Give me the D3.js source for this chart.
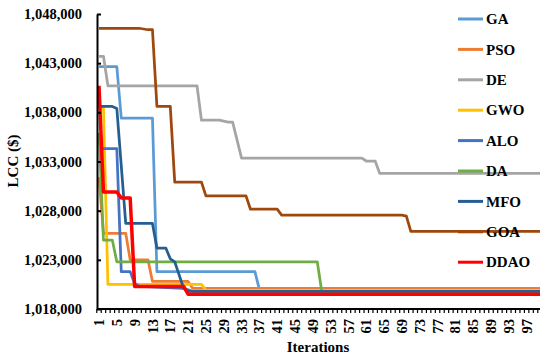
<!DOCTYPE html>
<html>
<head>
<meta charset="utf-8">
<script src="https://cdn.jsdelivr.net/npm/d3@7"></script>
<style>
  body { margin: 0; background: #fff; }
</style>
</head>
<body>
<svg id="chart" width="550" height="360" font-family="'Liberation Serif', 'Times New Roman', serif" font-weight="bold"></svg>
<script>
// convergence curves, [iteration, LCC] at each step corner
let GA = [[1,1042650],[5,1042650],[6,1037400],[13,1037400],[14,1021800],[36,1021800],[37,1020000],[100,1020000]];
let PSO = [[1,1031400],[2,1025700],[7,1025700],[8,1023000],[12,1023000],[13,1020800],[21,1020800],[22,1020100],[100,1020100]];
let DE = [[1,1043700],[2,1043700],[3,1040700],[23,1040700],[24,1037200],[28,1037200],[30,1037000],[31,1037000],[33,1033350],[60,1033350],[61,1033050],[63,1033050],[64,1031800],[100,1031800]];
let GWO = [[1,1038500],[2,1038500],[3,1020500],[24,1020500],[25,1019900],[100,1019900]];
let ALO = [[1,1034300],[5,1034300],[6,1021800],[8,1021800],[9,1020600],[10,1020300],[20,1020100],[22,1019800],[100,1019800]];
let DA = [[1,1035900],[2,1025000],[4,1025000],[5,1022800],[50,1022800],[51,1019800],[100,1019800]];
let MFO = [[1,1038600],[4,1038600],[5,1038400],[7,1026700],[13,1026700],[14,1024200],[16,1024200],[17,1023100],[18,1022800],[20,1020100],[21,1019800],[100,1019800]];
let GOA = [[1,1046550],[10,1046550],[12,1046400],[13,1046400],[14,1038600],[17,1038600],[18,1030900],[24,1030900],[25,1029500],[34,1029500],[35,1028150],[41,1028150],[42,1027550],[69,1027550],[70,1027450],[71,1025900],[100,1025900]];
let DDAO = [[1,1040700],[2,1029900],[5,1029900],[6,1029300],[8,1029300],[9,1020300],[20,1020300],[21,1019500],[100,1019500]];

let seriesNames = ["GA", "PSO", "DE", "GWO", "ALO", "DA", "MFO", "GOA", "DDAO"];
let seriesValues = [GA, PSO, DE, GWO, ALO, DA, MFO, GOA, DDAO];
let seriesColors = ["#5B9BD5", "#ED7D31", "#A5A5A5", "#FFC000", "#4472C4", "#70AD47", "#255E91", "#9E480E", "#FF0000"];

let xTickLabels = [1,5,9,13,17,21,25,29,33,37,41,45,49,53,57,61,65,69,73,77,81,85,89,93,97];
let yTickValues = [1018000,1023000,1028000,1033000,1038000,1043000,1048000];

let svg = d3.select("#chart");

let canvas = {
  "left": 97,
  "right": 540,
  "top": 14,
  "bottom": 309
};

let xScale = d3.scaleLinear()
  .domain([1, 100])
  .range([99, canvas.right]);

let yScale = d3.scaleLinear()
  .domain([1018000, 1048000])
  .range([canvas.bottom, canvas.top]);

// lines
let line = d3.line()
  .x(d => xScale(d[0]))
  .y(d => yScale(d[1]));

let series = seriesNames.map((name, i) => ({name: name, values: seriesValues[i], color: seriesColors[i]}));

svg.append("g")
  .selectAll("path")
  .data(series)
  .join("path")
  .attr("d", d => line(d.values))
  .attr("fill", "none")
  .attr("stroke", d => d.color)
  .attr("stroke-width", d => d.name == "DDAO" ? 3.5 : 2.75)
  .attr("stroke-linejoin", "round");

// y axis
let yAxis = d3.axisLeft(yScale)
  .tickValues(yTickValues)
  .tickSizeInner(-4)
  .tickSizeOuter(0)
  .tickPadding(15)
  .tickFormat(d3.format(",d"));

let gy = svg.append("g")
  .attr("transform", `translate(${canvas.left}, 0)`)
  .call(yAxis)
  .attr("font-family", null)
  .attr("font-size", null);

gy.select(".domain").attr("stroke", "#000").attr("stroke-width", 2);
gy.selectAll(".tick line").attr("stroke", "#000").attr("stroke-width", 2);
gy.selectAll(".tick text")
  .attr("fill", "#000")
  .attr("font-size", "14.5px");

// x axis: one tick per iteration boundary, labels every 4th
let boundaries = d3.range(0.5, 100.5, 1);

let gx = svg.append("g")
  .attr("transform", `translate(0, ${canvas.bottom})`);

gx.append("line")
  .attr("x1", canvas.left)
  .attr("x2", canvas.right)
  .attr("stroke", "#000")
  .attr("stroke-width", 2);

gx.selectAll(".xtick")
  .data(boundaries)
  .join("line")
  .attr("class", "xtick")
  .attr("x1", d => xScale(d))
  .attr("x2", d => xScale(d))
  .attr("y1", 0)
  .attr("y2", 4)
  .attr("stroke", "#000")
  .attr("stroke-width", 1.2);

gx.selectAll(".xlabel")
  .data(xTickLabels)
  .join("text")
  .attr("class", "xlabel")
  .attr("transform", d => `translate(${xScale(d)}, 10) rotate(-90)`)
  .attr("text-anchor", "end")
  .attr("dy", "0.35em")
  .attr("font-size", "14.5px")
  .text(d => d);

// axis titles
svg.append("text")
  .attr("transform", "translate(13, 161) rotate(-90)")
  .attr("text-anchor", "middle")
  .attr("dy", "0.35em")
  .attr("font-size", "15px")
  .text("LCC ($)");

svg.append("text")
  .attr("x", 318)
  .attr("y", 352)
  .attr("text-anchor", "middle")
  .attr("font-size", "15px")
  .text("Iterations");

// legend
let legend = svg.append("g")
  .selectAll("g")
  .data(series)
  .join("g")
  .attr("transform", (d, i) => `translate(458, ${19 + i * 30.4})`);

legend.append("line")
  .attr("x1", 0)
  .attr("x2", 25)
  .attr("stroke", d => d.color)
  .attr("stroke-width", 3);

legend.append("text")
  .attr("x", 28)
  .attr("dy", "0.35em")
  .attr("font-size", "15px")
  .text(d => d.name);
</script>
</body>
</html>
